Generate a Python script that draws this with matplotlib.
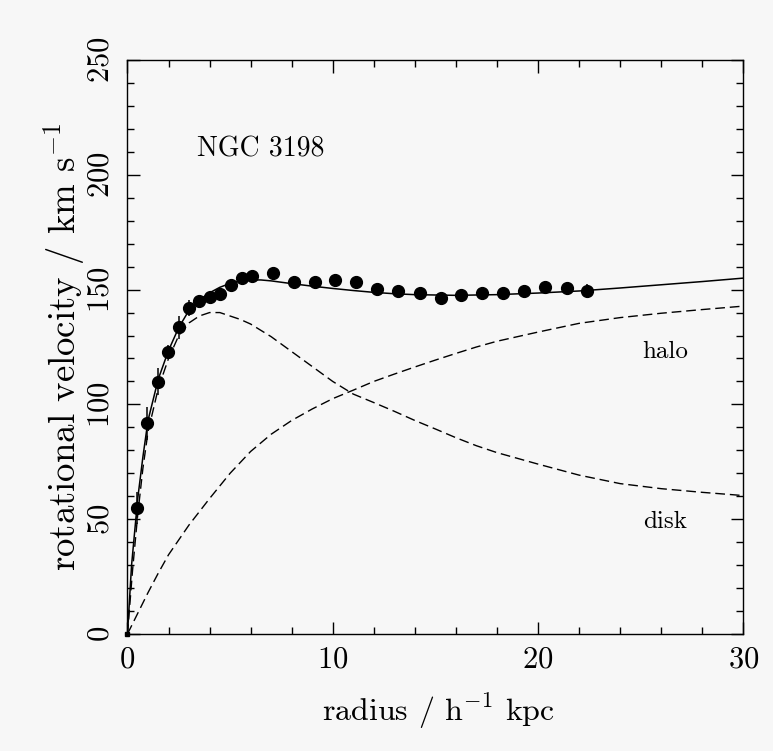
import numpy as np
import matplotlib
matplotlib.use("Agg")
import matplotlib.pyplot as plt

# measured rotation velocities (km/s) of NGC 3198
r_obs = [0.45, 0.97, 1.47, 1.99, 2.50, 2.99, 3.49, 4.01, 4.53, 5.04, 5.56, 6.07,
         7.09, 8.10, 9.12, 10.13, 11.15, 12.18, 13.20, 14.27, 15.26, 16.26,
         17.28, 18.32, 19.34, 20.35, 21.39, 22.41]
v_obs = [54.7, 91.7, 109.9, 122.8, 133.6, 141.9, 144.9, 146.6, 148.0, 152.0,
         154.9, 156.0, 157.1, 153.2, 153.2, 154.2, 153.4, 150.3, 149.3, 148.4,
         146.5, 147.6, 148.7, 148.7, 149.5, 151.0, 150.6, 149.5]
v_err = [7, 7, 6, 3, 5, 3.5, 2, 2, 2.5, 0, 0, 0, 0, 0, 0, 0, 0, 0, 0, 0,
         0, 0, 0, 0, 0, 0, 2.5, 3]

# model curves
r_tot = [0, 0.2, 0.5, 0.75, 1.0, 1.5, 2.0, 2.5, 3.0, 3.5, 4.0, 4.5, 5.0, 5.5,
         6.0, 6.5, 7.0, 8.0, 9.0, 10.0, 11.0, 12.0, 13.0, 14.0, 16.0, 18.0,
         20.0, 22.0, 24.0, 26.0, 28.0, 30.0]
v_tot = [0, 30, 59, 77, 93, 111, 123.5, 133.5, 141, 145.5, 148.6, 151, 152.7,
         153.8, 154.2, 154.2, 153.8, 152.6, 151.5, 150.5, 149.6, 148.8, 148.2,
         147.8, 147.5, 147.8, 148.5, 149.4, 150.7, 152.1, 153.5, 155]

r_disk = [0, 0.25, 0.5, 0.75, 1.0, 1.5, 2.0, 2.5, 3.0, 3.5, 4.0, 4.5, 5.0, 5.5,
          6.0, 7.0, 8.0, 9.0, 10.0, 11.0, 12.0, 13.0, 14.0, 15.0, 16.0, 17.0,
          18.0, 19.0, 20.0, 22.0, 24.0, 26.0, 28.0, 30.0]
v_disk = [0, 28, 52, 72, 88, 107, 120, 130, 135.5, 138.5, 140, 140, 138.5, 137,
          135, 129.5, 123, 116.5, 110, 104.5, 100.8, 97, 93, 89.3, 85.5, 82,
          79, 76.5, 74, 69.2, 65.5, 63.3, 61.7, 60.3]

r_halo = [0, 0.5, 1, 1.5, 2, 3, 4, 5, 6, 7, 8, 9, 10, 11, 12, 13, 14, 15, 16,
          17, 18, 20, 22, 24, 26, 28, 30]
v_halo = [0, 9, 18, 26.5, 34.5, 47.5, 59, 70, 79.5, 87, 93, 98, 102.5, 106.2,
          110, 113.2, 116.3, 119.3, 122.2, 125, 127.5, 131.5, 135.3, 137.8,
          139.7, 141.3, 142.8]

plt.rcParams['font.family'] = 'cmr10'
plt.rcParams['mathtext.fontset'] = 'cm'
plt.rcParams['axes.formatter.use_mathtext'] = True

bg = '#f7f7f7'
fig = plt.figure(figsize=(7.73, 7.51), dpi=100, facecolor=bg)
ax = fig.add_axes([0.1649, 0.1558, 0.7966, 0.7643], facecolor=bg)

ax.plot(r_tot, v_tot, color='k', lw=1.1, solid_capstyle='butt')
ax.plot(r_disk, v_disk, color='k', lw=1.0, dashes=(7, 3.5))
ax.plot(r_halo, v_halo, color='k', lw=1.0, dashes=(7, 3.5))
ax.errorbar(r_obs, v_obs, yerr=v_err, fmt='o', color='k', ms=8.5,
            elinewidth=1.1, capsize=0)
ax.plot([0], [0], 's', color='k', ms=3.5, clip_on=False)

ax.set_xlim(0, 30)
ax.set_ylim(0, 250)
ax.set_xticks([0, 10, 20, 30])
ax.set_xticks(np.arange(0, 31, 2), minor=True)
ax.set_yticks(np.arange(0, 251, 50))
ax.set_yticks(np.arange(0, 251, 10), minor=True)
ax.tick_params(which='both', direction='in', top=True, right=True, width=1.0)
ax.tick_params(which='major', length=9)
ax.tick_params(which='minor', length=5)
ax.tick_params(axis='x', labelsize=22, pad=9)
ax.tick_params(axis='y', labelsize=22, pad=9)
for lab in ax.get_yticklabels():
    lab.set_rotation(90)
    lab.set_va('center')
for s in ax.spines.values():
    s.set_linewidth(1.0)

ax.text(6.5, 211, 'NGC 3198', fontsize=20, ha='center', va='center')
ax.text(26.2, 123, 'halo', fontsize=18, ha='center', va='center')
ax.text(26.2, 49, 'disk', fontsize=18, ha='center', va='center')

ax.set_xlabel('radius / h$^{-1}$ kpc', fontsize=23)
ax.xaxis.set_label_coords(0.505, -0.10)
ax.set_ylabel('rotational velocity / km s$^{-1}$', fontsize=26.5)
ax.yaxis.set_label_coords(-0.066, 0.5)

fig.savefig('out.png', dpi=100, facecolor=bg)
